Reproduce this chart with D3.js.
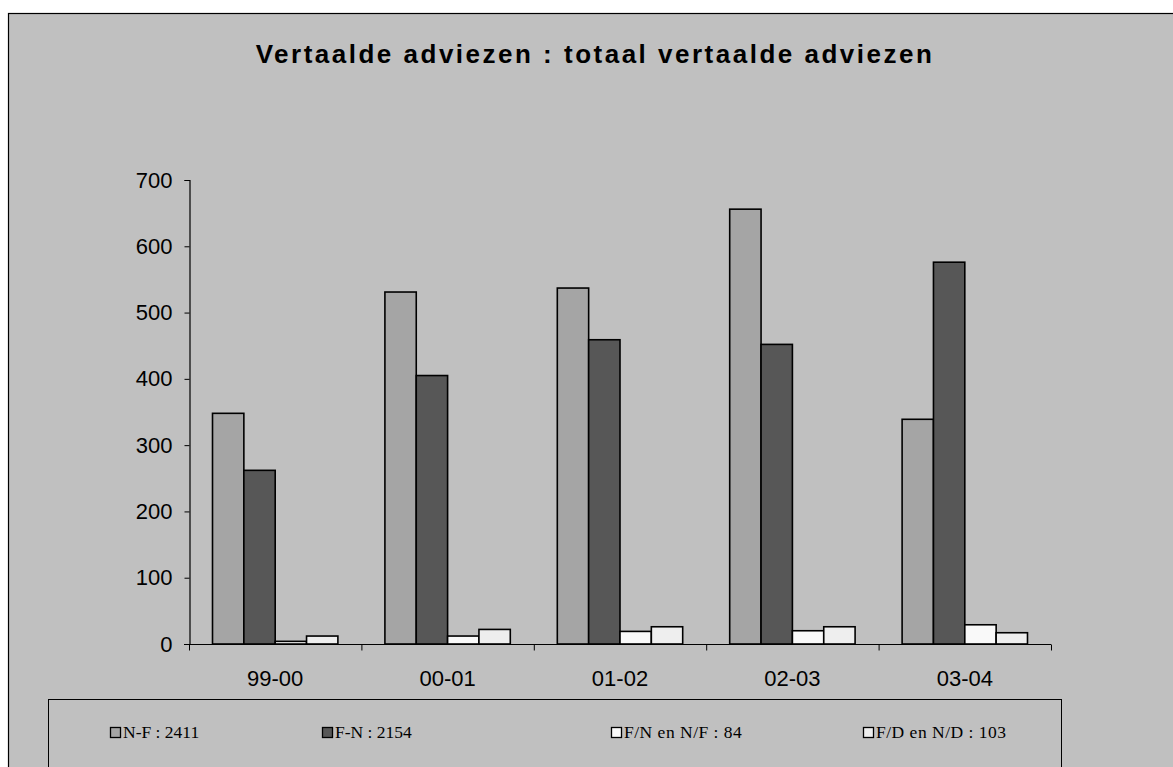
<!DOCTYPE html>
<html>
<head>
<meta charset="utf-8">
<script src="https://cdn.jsdelivr.net/npm/d3@7/dist/d3.min.js"></script>
<style>
  html, body { margin: 0; padding: 0; background: #ffffff; }
  svg { display: block; }
</style>
</head>
<body>
<svg id="chart" width="1173" height="767"></svg>
<script>
// Academic years on the category axis
const years = ["99-00", "00-01", "01-02", "02-03", "03-04"];

// Translated opinions per direction and year
const seriesNames = ["N-F", "F-N", "F/N en N/F", "F/D en N/D"];
const valuesNF = [348, 531, 537, 656, 339];
const valuesFN = [262, 405, 459, 452, 576];
const valuesFNNF = [4, 12, 19, 20, 29];
const valuesFDND = [12, 22, 26, 26, 17];

// Legend labels carry the totals over all years
const legendLabels = ["N-F : 2411", "F-N : 2154", "F/N en N/F : 84", "F/D en N/D : 103"];

const yTicks = [0, 100, 200, 300, 400, 500, 600, 700];
const titleText = "Vertaalde adviezen : totaal vertaalde adviezen";

const seriesValues = [valuesNF, valuesFN, valuesFNNF, valuesFDND];
const fills = ["#a5a5a5", "#575757", "#f9f9f9", "#eeeeee"];

const svg = d3.select("#chart");

// Chart area background and frame
svg.append("rect")
  .attr("x", 8.5).attr("y", 13.5)
  .attr("width", 1200).attr("height", 800)
  .attr("fill", "#c0c0c0")
  .attr("stroke", "#000").attr("stroke-width", 1.2);

// Title
svg.append("text")
  .attr("x", 595).attr("y", 63)
  .attr("text-anchor", "middle")
  .attr("font-family", "Liberation Sans, Arial, sans-serif")
  .attr("font-weight", "bold")
  .attr("font-size", 26)
  .attr("letter-spacing", 2.5)
  .attr("fill", "#000")
  .text(titleText);

// Scales
const x = d3.scaleBand().domain(years).range([189, 1051]).paddingInner(0).paddingOuter(0);
const xs = d3.scaleBand().domain(seriesNames).range([0, x.bandwidth()]).paddingInner(0).paddingOuter(0.75);
const y = d3.scaleLinear().domain([0, 700]).range([644, 180]);

// Bars
const rows = [];
seriesNames.forEach((s, si) => {
  years.forEach((yr, yi) => {
    rows.push({ series: s, si: si, year: yr, value: seriesValues[si][yi] });
  });
});

svg.append("g").selectAll("rect")
  .data(rows)
  .join("rect")
  .attr("x", d => x(d.year) + xs(d.series))
  .attr("y", d => y(d.value))
  .attr("width", xs.bandwidth())
  .attr("height", d => y(0) - y(d.value))
  .attr("fill", d => fills[d.si])
  .attr("stroke", "#000")
  .attr("stroke-width", 1.6);

// Y axis
const yAxis = d3.axisLeft(y).tickValues(yTicks).tickSize(5).tickPadding(12).tickFormat(d3.format("d"));
const gy = svg.append("g").attr("transform", "translate(189.5,0)").call(yAxis);
gy.select(".domain").attr("stroke", "#000").attr("stroke-width", 1.2);
gy.selectAll(".tick line").attr("stroke", "#000");
gy.selectAll(".tick text")
  .attr("font-family", "Liberation Sans, Arial, sans-serif")
  .attr("font-size", 22)
  .attr("fill", "#000");

// X axis: ticks sit on category boundaries
const gx = svg.append("g").attr("transform", "translate(0,644.5)");
gx.append("line")
  .attr("x1", 184).attr("x2", x.range()[1])
  .attr("stroke", "#000").attr("stroke-width", 1.2);
const boundaries = years.map(d => x(d)).concat([x.range()[1]]);
gx.selectAll("line.tk")
  .data(boundaries)
  .join("line")
  .attr("class", "tk")
  .attr("x1", d => d + 0.5).attr("x2", d => d + 0.5)
  .attr("y1", 0).attr("y2", 6)
  .attr("stroke", "#000");
gx.selectAll("text")
  .data(years)
  .join("text")
  .attr("x", d => x(d) + x.bandwidth() / 2)
  .attr("y", 41)
  .attr("text-anchor", "middle")
  .attr("font-family", "Liberation Sans, Arial, sans-serif")
  .attr("font-size", 22)
  .attr("fill", "#000")
  .text(d => d);

// Legend box
svg.append("rect")
  .attr("x", 48.5).attr("y", 699.5)
  .attr("width", 1013).attr("height", 120)
  .attr("fill", "#c0c0c0")
  .attr("stroke", "#000").attr("stroke-width", 1);

const legendX = [110, 322, 611, 863];
const legendSpacing = [0, 0, 0.5, 0.5];
const lg = svg.append("g").selectAll("g")
  .data(seriesNames)
  .join("g")
  .attr("transform", (d, i) => `translate(${legendX[i]},727)`);
lg.append("rect")
  .attr("x", 0.5).attr("y", 0.5)
  .attr("width", 10).attr("height", 10)
  .attr("fill", (d, i) => fills[i])
  .attr("stroke", "#000").attr("stroke-width", 1.3);
lg.append("text")
  .attr("x", 13).attr("y", 11)
  .attr("font-family", "Liberation Serif, Times New Roman, serif")
  .attr("font-size", 17.5)
  .attr("letter-spacing", (d, i) => legendSpacing[i])
  .attr("fill", "#000")
  .text((d, i) => legendLabels[i]);
</script>
</body>
</html>
